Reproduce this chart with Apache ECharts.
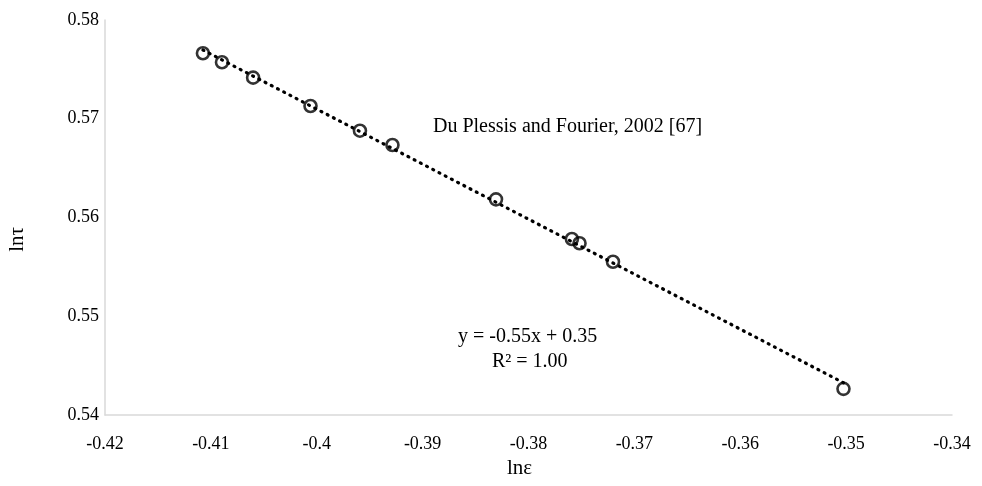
<!DOCTYPE html>
<html>
<head>
<meta charset="utf-8">
<script src="https://cdn.jsdelivr.net/npm/echarts@6/dist/echarts.min.js"></script>
<style>
  html, body { margin: 0; padding: 0; background: #fff; }
  #chart { width: 982px; height: 486px; }
</style>
</head>
<body>
<div id="chart"></div>
<script>
// values
var lnEps = [-0.41075, -0.40895, -0.40601, -0.40059, -0.39592, -0.39285,
  -0.38307, -0.3759, -0.37518, -0.37202, -0.35025];
var lnTau = [0.57663, 0.57572, 0.57416, 0.57129, 0.56879, 0.56734,
  0.56184, 0.55782, 0.55739, 0.55552, 0.54265];
var xTicks = [-0.42, -0.41, -0.4, -0.39, -0.38, -0.37, -0.36, -0.35, -0.34];
var yTicks = [0.54, 0.55, 0.56, 0.57, 0.58];

var points = lnEps.map(function (x, i) { return [x, lnTau[i]]; });

// least squares trend line
var n = lnEps.length, sx = 0, sy = 0, sxx = 0, sxy = 0;
for (var i = 0; i < n; i++) {
  sx += lnEps[i]; sy += lnTau[i];
  sxx += lnEps[i] * lnEps[i]; sxy += lnEps[i] * lnTau[i];
}
var slope = (n * sxy - sx * sy) / (n * sxx - sx * sx);
var icpt = (sy - slope * sx) / n;
var xMin = Math.min.apply(null, lnEps), xMax = Math.max.apply(null, lnEps);
var trend = [[xMin, slope * xMin + icpt], [xMax, slope * xMax + icpt]];

var font = "'Liberation Serif', 'Times New Roman', serif";

var chart = echarts.init(document.getElementById("chart"));
chart.setOption({
  animation: false,
  grid: { left: 105, right: 30, top: 20, bottom: 71 },
  textStyle: { fontFamily: font },
  xAxis: {
    type: "value",
    min: xTicks[0],
    max: xTicks[xTicks.length - 1],
    interval: 0.01,
    axisLine: { onZero: false, lineStyle: { color: "#d9d9d9", width: 1.5 } },
    axisTick: { show: false },
    splitLine: { show: false },
    axisLabel: {
      fontFamily: font, fontSize: 18, color: "#000", margin: 20,
      formatter: function (v) { return String(+v.toFixed(2)); }
    }
  },
  yAxis: {
    type: "value",
    min: yTicks[0],
    max: yTicks[yTicks.length - 1],
    interval: 0.01,
    axisLine: { show: true, onZero: false, lineStyle: { color: "#d9d9d9", width: 1.5 } },
    axisTick: { show: false },
    splitLine: { show: false },
    axisLabel: {
      fontFamily: font, fontSize: 18, color: "#000", margin: 6,
      formatter: function (v) { return String(+v.toFixed(2)); }
    }
  },
  graphic: [
    {
      type: "text", left: 7, top: 227, rotation: Math.PI / 2,
      style: { text: "lnτ", font: "21px " + font, fill: "#000" }
    },
    {
      type: "text", left: 507, top: 458,
      style: { text: "lnε", font: "21px " + font, fill: "#000" }
    },
    {
      type: "text", left: 433, top: 117,
      style: { text: "Du Plessis and Fourier, 2002 [67]", font: "20px " + font, fill: "#000" }
    },
    {
      type: "text", left: 458, top: 327,
      style: { text: "y = -0.55x + 0.35", font: "20px " + font, fill: "#000" }
    },
    {
      type: "text", left: 492, top: 352,
      style: { text: "R² = 1.00", font: "20px " + font, fill: "#000" }
    }
  ],
  series: [
    {
      type: "scatter",
      data: points,
      symbol: "circle",
      symbolSize: 12,
      itemStyle: { color: "rgba(0,0,0,0)", borderColor: "#000", borderWidth: 2.6 },
      z: 2
    },
    {
      type: "line",
      data: trend,
      showSymbol: false,
      lineStyle: { color: "#000", width: 3.2, type: [1, 6], cap: "round" },
      z: 3
    }
  ]
});
</script>
</body>
</html>
